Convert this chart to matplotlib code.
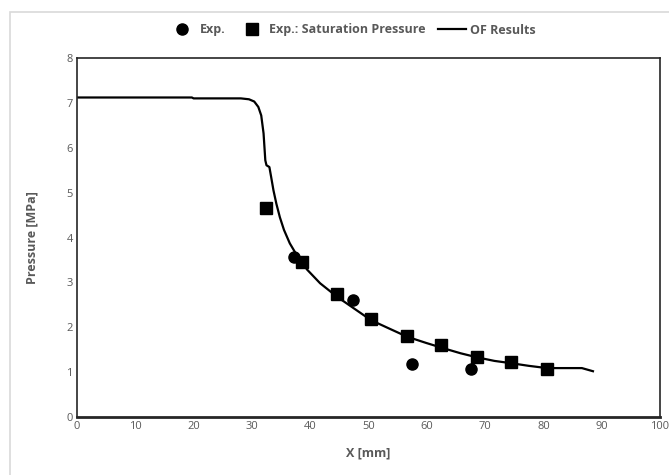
import matplotlib.pyplot as plt
from matplotlib.patches import Rectangle

plt.rcParams['font.family'] = ['Open Sans', 'DejaVu Sans']

# Exp. (circles)
exp_x = [37.3, 47.3, 57.4, 67.5]
exp_p = [3.57, 2.61, 1.18, 1.07]

# Exp.: Saturation Pressure (squares)
sat_x = [32.5, 38.6, 44.6, 50.4, 56.6, 62.5, 68.6, 74.4, 80.6]
sat_p = [4.65, 3.46, 2.74, 2.18, 1.81, 1.61, 1.33, 1.22, 1.07]

# OF Results (line)
of_x = [0, 19.7, 20.0, 28.1, 29.5, 30.4, 31.1, 31.6, 32.0, 32.3, 32.5, 33.0, 33.3,
        33.7, 34.2, 34.8, 35.5, 36.5, 38.0, 39.5, 41.7, 44.6, 47.5, 50.4, 53.4,
        56.6, 59.9, 62.9, 65.8, 68.6, 71.6, 74.4, 77.5, 80.6, 86.6, 88.5]
of_p = [7.12, 7.12, 7.10, 7.10, 7.08, 7.03, 6.91, 6.72, 6.32, 5.72, 5.61, 5.57, 5.35,
        5.05, 4.75, 4.45, 4.17, 3.87, 3.54, 3.28, 2.98, 2.68, 2.42, 2.16, 1.98,
        1.79, 1.65, 1.53, 1.42, 1.33, 1.25, 1.20, 1.14, 1.09, 1.09, 1.02]

gray = '#595959'

fig = plt.figure(figsize=(6.69, 4.75), dpi=100)
# outer chart frame
fig.patches.append(Rectangle((10/669, -0.1), 1.2, 1 - 12/475 + 0.1,
                             transform=fig.transFigure, fill=False,
                             edgecolor='#d9d9d9', linewidth=1.2))
ax = fig.add_axes([77/669, 1 - 417/475, (660 - 77)/669, (417 - 58)/475])

ax.plot(exp_x, exp_p, 'o', color='black', markersize=8, label='Exp.', zorder=3)
ax.plot(sat_x, sat_p, 's', color='black', markersize=8.5,
        label='Exp.: Saturation Pressure', zorder=3)
ax.plot(of_x, of_p, '-', color='black', linewidth=1.6, label='OF Results', zorder=2)

ax.set_xlim(0, 100)
ax.set_ylim(0, 8)
ax.set_xticks(range(0, 101, 10))
ax.set_yticks(range(0, 9))
ax.tick_params(length=0, labelsize=8, labelcolor=gray, pad=3)
for s in ax.spines.values():
    s.set_color('#262626')
    s.set_linewidth(1.2)
ax.spines['bottom'].set_linewidth(2)

ax.set_xlabel('X [mm]', fontsize=9, fontweight='bold', color=gray, labelpad=10)
ax.set_ylabel('Pressure [MPa]', fontsize=9, fontweight='bold', color=gray, labelpad=20)

leg = fig.legend(loc='center', bbox_to_anchor=(352/669, 1 - 30/475), ncol=3,
                 frameon=False, prop={'size': 9, 'weight': 'bold'},
                 handlelength=2.2, handletextpad=0.3, columnspacing=1.0)
for t in leg.get_texts():
    t.set_color(gray)

fig.savefig('out.png', dpi=100)
